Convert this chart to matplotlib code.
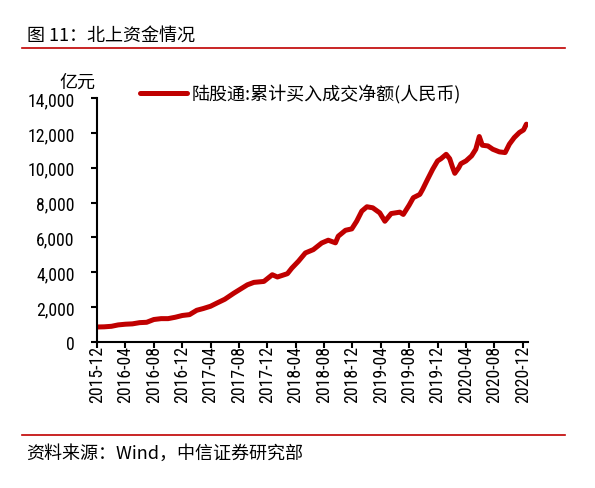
import pandas as pd
import matplotlib.pyplot as plt
import matplotlib.dates as mdates
from matplotlib import font_manager
from matplotlib.font_manager import FontProperties
from matplotlib.textpath import TextPath
from matplotlib.ticker import FuncFormatter, MultipleLocator

# 数据（从图上读取，亿元）
dates = ['2015-12-01', '2016-01-01', '2016-02-01', '2016-03-01', '2016-04-01',
         '2016-05-01', '2016-06-01', '2016-07-01', '2016-08-01', '2016-09-01',
         '2016-10-01', '2016-11-01', '2016-12-01', '2017-01-01', '2017-02-01',
         '2017-03-01', '2017-04-01', '2017-05-01', '2017-06-01', '2017-07-10',
         '2017-09-06', '2017-10-04', '2017-11-16', '2017-12-22', '2018-01-13',
         '2018-02-25', '2018-03-16', '2018-04-13', '2018-05-13', '2018-06-16',
         '2018-07-22', '2018-08-19', '2018-09-19', '2018-10-01', '2018-11-01',
         '2018-11-28', '2018-12-19', '2019-01-10', '2019-02-01', '2019-02-26',
         '2019-03-28', '2019-04-19', '2019-05-16', '2019-06-22', '2019-07-07',
         '2019-08-01', '2019-08-19', '2019-09-16', '2019-09-28', '2019-10-19',
         '2019-11-10', '2019-12-01', '2019-12-16', '2020-01-07', '2020-01-22',
         '2020-02-04', '2020-02-13', '2020-03-01', '2020-03-10', '2020-04-01',
         '2020-04-25', '2020-05-13', '2020-05-28', '2020-06-10', '2020-07-04',
         '2020-07-25', '2020-08-22', '2020-09-16', '2020-10-04', '2020-10-25',
         '2020-11-16', '2020-12-04', '2020-12-16']
net_buy = [860, 870, 900, 980, 1020,
           1040, 1110, 1130, 1290, 1340,
           1340, 1420, 1520, 1570, 1820,
           1920, 2050, 2250, 2450, 2800,
           3280, 3420, 3475, 3860, 3730,
           3920, 4240, 4630, 5110, 5300,
           5680, 5840, 5690, 6070, 6410,
           6490, 6930, 7510, 7760, 7700,
           7410, 6930, 7370, 7450, 7320,
           7850, 8280, 8470, 8760, 9330,
           9910, 10390, 10520, 10770, 10520,
           10000, 9680, 10000, 10230, 10390,
           10680, 11060, 11790, 11290, 11250,
           11060, 10910, 10870, 11350, 11730,
           12020, 12170, 12500]

series_name = '陆股通:累计买入成交净额(人民币)'
title_text = '图 11：北上资金情况'
source_text = '资料来源：Wind，中信证券研究部'
unit_text = '亿元'

df = pd.DataFrame({'date': pd.to_datetime(dates), 'value': net_buy})

red = '#C00000'
cjk = ['Noto Sans CJK SC', 'DejaVu Sans']
plt.rcParams['font.family'] = ['Liberation Sans', 'Noto Sans CJK SC', 'DejaVu Sans']


# 刻度字体：原图是 Arial Narrow 一类的窄体，"14,000" 约 45px 宽、13px 高
def pick_tick_font():
    target = 45 / 13
    cands = [font_manager.findfont(FontProperties(family='Liberation Sans'))]
    for f in font_manager.fontManager.ttflist:
        fn = f.fname.lower()
        if 'mono' in fn or f.style != 'normal' or f.weight not in (400, 'normal', 'regular'):
            continue
        if 'narrow' in fn or 'condensed' in fn or f.stretch not in ('normal', 500):
            cands.append(f.fname)
    best, best_err = None, None
    for fname in cands:
        try:
            ext = TextPath((0, 0), '14,000', prop=FontProperties(fname=fname, size=10)).get_extents()
            h = TextPath((0, 0), '0', prop=FontProperties(fname=fname, size=10)).get_extents().height
        except Exception:
            continue
        if h <= 0:
            continue
        err = abs(ext.width / h - target)
        if best_err is None or err < best_err:
            best, best_err, best_w = fname, err, ext.width
    # 按宽度定字号（点 -> 像素：100/72）
    size = 10 * (45 * 72 / 100) / best_w
    return FontProperties(fname=best, size=size)


tick_font = pick_tick_font()

fig = plt.figure(figsize=(5.95, 4.89), dpi=100)
ax = fig.add_axes([0.163, 0.2986, 0.724, 0.4989])

line, = ax.plot(df['date'], df['value'], color=red, linewidth=3.6,
                solid_capstyle='round', solid_joinstyle='round', label=series_name)

ax.set_ylim(0, 14000)
ax.set_xlim(pd.Timestamp('2015-12-01'), pd.Timestamp('2020-12-22'))
ax.yaxis.set_major_locator(MultipleLocator(2000))
ax.yaxis.set_major_formatter(FuncFormatter(lambda v, p: f'{int(v):,}'))
ax.xaxis.set_major_locator(mdates.MonthLocator(bymonth=[4, 8, 12]))
ax.xaxis.set_major_formatter(mdates.DateFormatter('%Y-%m'))

for s in ['top', 'right']:
    ax.spines[s].set_visible(False)
for s in ['left', 'bottom']:
    ax.spines[s].set_linewidth(1.5)

ax.tick_params(axis='both', length=4, width=1.5, direction='out')
ax.tick_params(axis='x', pad=-2, labelrotation=90)
ax.tick_params(axis='y', pad=12)
for lab in ax.get_xticklabels() + ax.get_yticklabels():
    lab.set_fontproperties(tick_font)

# 图例
fig.legend(handles=[line], loc='center left', bbox_to_anchor=(140 / 595, 1 - 95 / 489),
           frameon=False, borderpad=0, borderaxespad=0, handlelength=2.6,
           handletextpad=0.28, prop={'family': cjk, 'size': 13})

# 单位
fig.text(59 / 595, 1 - 83 / 489, unit_text, family=cjk, fontsize=13, va='center', ha='left')

# 标题和来源
fig.text(27 / 595, 1 - 36 / 489, title_text, family=cjk, fontsize=13, va='center', ha='left')
fig.add_artist(plt.Line2D([22 / 595, 565 / 595], [1 - 48.5 / 489] * 2, color=red, linewidth=1.2))
fig.add_artist(plt.Line2D([22 / 595, 565 / 595], [1 - 436 / 489] * 2, color=red, linewidth=1.2))
fig.text(26 / 595, 1 - 454 / 489, source_text, family=cjk, fontsize=13, va='center', ha='left')

plt.savefig('out.png', dpi=100)
